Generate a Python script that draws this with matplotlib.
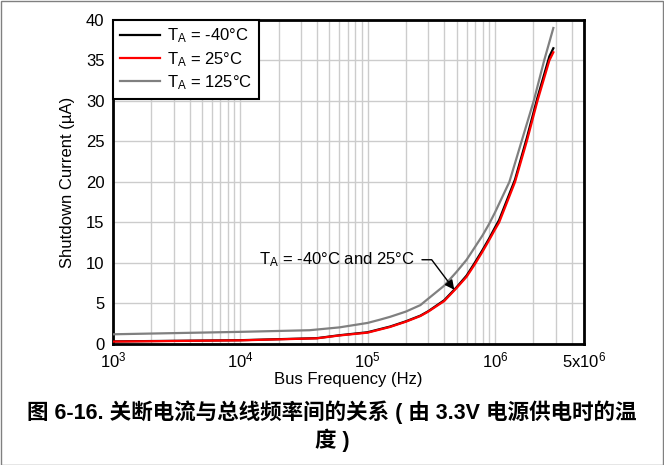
import matplotlib
matplotlib.use("Agg")
import matplotlib.pyplot as plt
from matplotlib.ticker import FixedLocator, LogLocator, NullFormatter
from matplotlib.patches import Rectangle

plt.rcParams['font.family'] = ['Liberation Sans', 'DejaVu Sans']
plt.rcParams['mathtext.fontset'] = 'custom'
plt.rcParams['mathtext.rm'] = 'Liberation Sans'
plt.rcParams['mathtext.it'] = 'Liberation Sans:italic'
plt.rcParams['mathtext.bf'] = 'Liberation Sans:bold'

# values
freq_25 = [1e3, 1e4, 4e4, 6e4, 1e5, 1.5e5, 2e5, 2.6e5, 3e5, 4e5, 5e5, 6e5, 7e5, 8e5, 9e5,
           1e6, 1.08e6, 1.44e6, 1.78e6, 2.16e6, 2.68e6, 2.88e6]
cur_25 = [0.3, 0.45, 0.7, 1.05, 1.4, 2.1, 2.75, 3.45, 4.0, 5.3, 6.9, 8.3, 9.9, 11.4, 12.8,
          14.1, 15.0, 20.0, 25.0, 30.0, 35.0, 36.0]

freq_m40 = [1e3, 1e4, 4e4, 6e4, 1e5, 1.5e5, 2e5, 2.6e5, 3e5, 4e5, 5e5, 6e5, 7e5, 8e5, 9e5,
            1e6, 1.08e6, 1.44e6, 1.78e6, 2.16e6, 2.68e6, 2.88e6]
cur_m40 = [0.32, 0.47, 0.72, 1.08, 1.45, 2.15, 2.8, 3.5, 4.05, 5.4, 7.0, 8.45, 10.1, 11.6, 13.0,
           14.35, 15.3, 20.3, 25.4, 30.4, 35.5, 36.5]

freq_125 = [1e3, 1e4, 3.5e4, 6e4, 1e5, 1.25e5, 1.5e5, 2e5, 2.6e5, 3e5, 4e5, 5e5, 6e5, 7e5,
            8e5, 9e5, 1e6, 1.3e6, 1.62e6, 2.02e6, 2.44e6, 2.88e6]
cur_125 = [1.2, 1.5, 1.7, 2.05, 2.6, 3.0, 3.35, 4.0, 4.8, 5.6, 7.2, 8.9, 10.4, 12.0,
           13.4, 14.8, 16.2, 20.0, 25.0, 30.0, 35.0, 39.0]

xticks = [1e3, 1e4, 1e5, 1e6, 5e6]
xticklabels = [r'10$^\mathregular{3}$', r'10$^\mathregular{4}$', r'10$^\mathregular{5}$',
               r'10$^\mathregular{6}$', r'5x10$^\mathregular{6}$']
yticks = [0, 5, 10, 15, 20, 25, 30, 35, 40]

fig = plt.figure(figsize=(6.64, 4.65), dpi=100)
ax = fig.add_axes([0.170, 0.2602, 0.7093, 0.697])

ax.plot(freq_m40, cur_m40, color="black", lw=1.6, label=r'T$_\mathregular{A}$ = -40°C', zorder=3)
ax.plot(freq_25, cur_25, color="red", lw=1.6, label=r'T$_\mathregular{A}$ = 25°C', zorder=4)
ax.plot(freq_125, cur_125, color="#808080", lw=1.6, label=r'T$_\mathregular{A}$ = 125°C', zorder=3)

ax.set_xscale("log")
ax.set_xlim(1e3, 5e6)
ax.set_ylim(0, 40)
ax.xaxis.set_major_locator(FixedLocator(xticks))
ax.set_xticklabels(xticklabels)
ax.xaxis.set_minor_locator(LogLocator(base=10, subs=range(2, 10), numticks=20))
ax.xaxis.set_minor_formatter(NullFormatter())
ax.set_yticks(yticks)

ax.grid(True, which="major", color="#cccccc", lw=1)
ax.grid(True, which="minor", axis="x", color="#cccccc", lw=1)
ax.set_axisbelow(True)
ax.tick_params(which="both", length=0, labelsize=12)
ax.tick_params(axis="x", pad=5)
ax.tick_params(axis="y", pad=6)
for s in ax.spines.values():
    s.set_linewidth(2)

ax.set_xlabel("Bus Frequency (Hz)", fontsize=12, labelpad=1)
ax.set_ylabel("Shutdown Current (µA)", fontsize=12, labelpad=8)

leg = ax.legend(loc="upper left", fontsize=12, borderaxespad=0, fancybox=False,
                framealpha=1, edgecolor="black", handlelength=2.4, labelspacing=0.28,
                borderpad=0.4, handletextpad=0.45)
leg.get_frame().set_linewidth(1.5)

ax.annotate(r'T$_\mathregular{A}$ = -40°C and 25°C',
            xy=(4.8e5, 6.7), xytext=(2.36e5, 10.4), ha="right", va="center",
            fontsize=12,
            arrowprops=dict(arrowstyle="-|>", color="black", lw=1, shrinkA=3, shrinkB=0,
                            mutation_scale=14,
                            connectionstyle="angle,angleA=0,angleB=-53,rad=0"))

fig.text(0.5, 0.083, "图 6-16. 关断电流与总线频率间的关系 ( 由 3.3V 电源供电时的温\n度 )",
         ha="center", va="center", fontsize=15.5, fontweight="bold", linespacing=1.25,
         family=['Liberation Sans', 'Noto Sans CJK SC'])

fig.patches.append(Rectangle((0.001, 0.001), 0.998, 0.997, transform=fig.transFigure,
                             fill=False, edgecolor="#808080", lw=1))

fig.savefig("out.png", dpi=100)
